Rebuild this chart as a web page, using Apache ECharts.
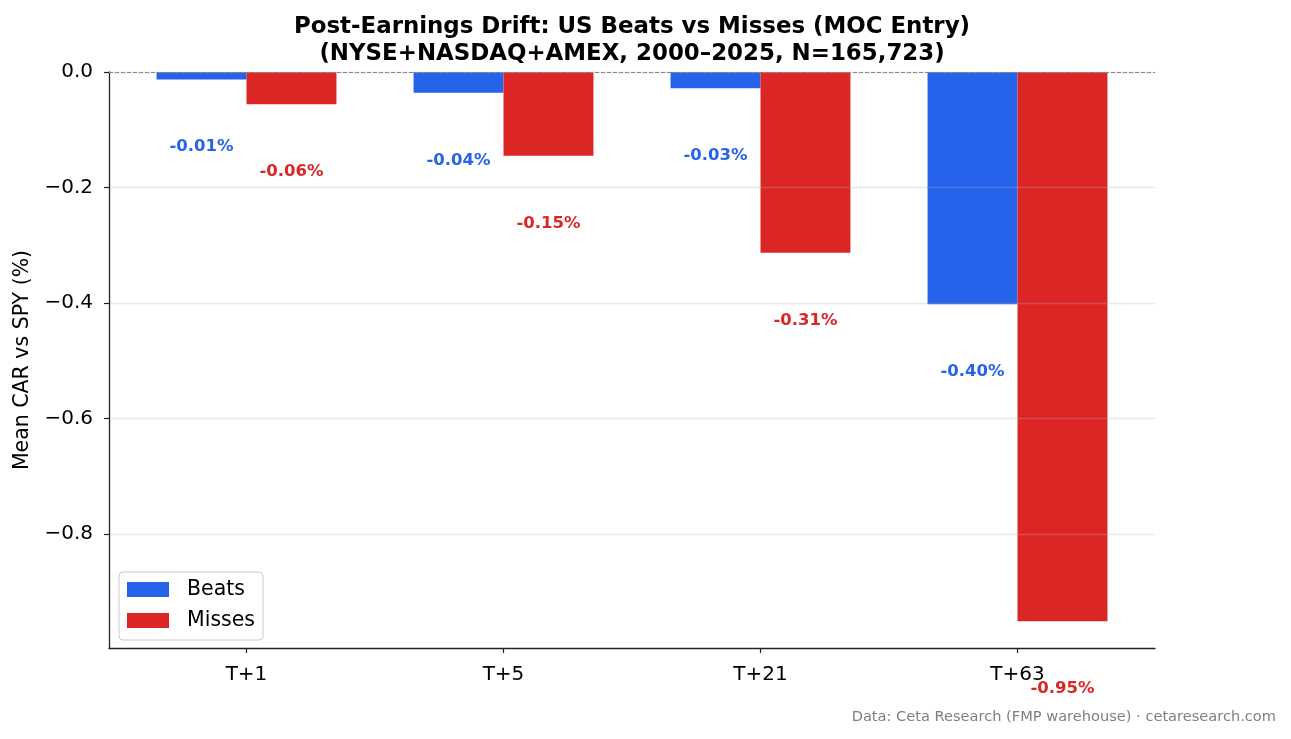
<!DOCTYPE html>
<html>
<head>
<meta charset="utf-8">
<script src="https://cdn.jsdelivr.net/npm/echarts@6/dist/echarts.min.js"></script>
<style>
html,body{margin:0;padding:0;background:#fff;}
#chart{width:1291px;height:739px;}
</style>
</head>
<body>
<div id="chart"></div>
<script>
const categories = ['T+1', 'T+5', 'T+21', 'T+63'];
const beatsValues = [-0.013, -0.036, -0.028, -0.402];
const missesValues = [-0.056, -0.145, -0.313, -0.951];
const beatsLabels = ['-0.01%', '-0.04%', '-0.03%', '-0.40%'];
const missesLabels = ['-0.06%', '-0.15%', '-0.31%', '-0.95%'];
const yTicks = [0, -0.2, -0.4, -0.6, -0.8];
const xTicks = [0, 1, 2, 3];

const BLUE = '#2563eb';
const RED = '#dc2626';
const FONT = 'DejaVu Sans';
const BAR_W = 0.35;
const LABEL_DROP = 0.117;

function barRenderer(offset, color, labels) {
  return function (params, api) {
    const x = api.value(0);
    const v = api.value(1);
    const p0 = api.coord([x + offset - BAR_W / 2, 0]);
    const p1 = api.coord([x + offset + BAR_W / 2, v]);
    const lp = api.coord([x + offset, v - LABEL_DROP]);
    return {
      type: 'group',
      children: [
        {
          type: 'rect',
          shape: { x: p0[0], y: p0[1], width: p1[0] - p0[0], height: p1[1] - p0[1] },
          style: { fill: color }
        },
        {
          type: 'text',
          x: lp[0], y: lp[1],
          style: {
            text: labels[params.dataIndex],
            fill: color,
            font: 'bold 16.5px "' + FONT + '"',
            align: 'center',
            verticalAlign: 'middle'
          }
        }
      ]
    };
  };
}

const chart = echarts.init(document.getElementById('chart'));
chart.setOption({
  backgroundColor: '#ffffff',
  animation: false,
  textStyle: { fontFamily: FONT },
  title: {
    text: 'Post-Earnings Drift: US Beats vs Misses (MOC Entry)\n(NYSE+NASDAQ+AMEX, 2000–2025, N=165,723)',
    left: 632, top: 14, textAlign: 'center', padding: 0,
    textStyle: { fontFamily: FONT, fontWeight: 'bold', fontSize: 22.9, lineHeight: 27, color: '#000' }
  },
  legend: {
    orient: 'vertical', left: 119, top: 572,
    padding: [7, 8, 9, 8], itemGap: 10,
    itemWidth: 42, itemHeight: 15,
    borderColor: '#cccccc', borderWidth: 1, borderRadius: 4, backgroundColor: '#fff',
    textStyle: { fontFamily: FONT, fontSize: 20.5, lineHeight: 20, color: '#000', padding: [0, 0, 0, 13] },
    data: [{ name: 'Beats', icon: 'rect' }, { name: 'Misses', icon: 'rect' }]
  },
  grid: { left: 109, right: 136, top: 72, bottom: 91, containLabel: false },
  xAxis: {
    type: 'value', min: -0.535, max: 3.535,
    axisLine: { onZero: false, lineStyle: { color: '#222', width: 1.3 } },
    axisTick: { show: true, length: 5, customValues: xTicks, lineStyle: { color: '#222', width: 1.2 } },
    axisLabel: { customValues: xTicks, formatter: v => categories[Math.round(v)] || '', fontFamily: FONT, fontSize: 20, color: '#000', margin: 17 },
    splitLine: { show: false }
  },
  yAxis: {
    type: 'value', min: -0.9975, max: 0, z: 3,
    name: 'Mean CAR vs SPY (%)', nameLocation: 'middle', nameGap: 71,
    nameTextStyle: { fontFamily: FONT, fontSize: 20.5, color: '#000' },
    axisLine: { show: true, onZero: false, lineStyle: { color: '#222', width: 1.3 } },
    axisTick: { show: true, length: 5, customValues: yTicks, lineStyle: { color: '#222', width: 1.2 } },
    axisLabel: {
      customValues: yTicks, fontFamily: FONT, fontSize: 20, color: '#000', margin: 16,
      formatter: v => (Math.abs(v) < 1e-9 ? '0.0' : '\u2212' + Math.abs(v).toFixed(1))
    },
    splitLine: { show: true, lineStyle: { color: 'rgba(176,176,176,0.3)', width: 1.3 } }
  },
  graphic: [{
    type: 'text', right: 15, top: 710,
    style: { text: 'Data: Ceta Research (FMP warehouse) · cetaresearch.com', fill: '#808080', font: '14.6px "' + FONT + '"' }
  }],
  series: [
    {
      name: 'Beats', type: 'custom', itemStyle: { color: BLUE },
      renderItem: barRenderer(-BAR_W / 2, BLUE, beatsLabels),
      data: beatsValues.map((v, i) => [i, v]), z: 2
    },
    {
      name: 'Misses', type: 'custom', itemStyle: { color: RED },
      renderItem: barRenderer(BAR_W / 2, RED, missesLabels),
      data: missesValues.map((v, i) => [i, v]), z: 2,
      markLine: {
        silent: true, symbol: 'none', z: 5, label: { show: false },
        lineStyle: { color: '#888', width: 1, type: [4, 2] },
        data: [{ yAxis: 0 }]
      }
    }
  ]
});
</script>
</body>
</html>
